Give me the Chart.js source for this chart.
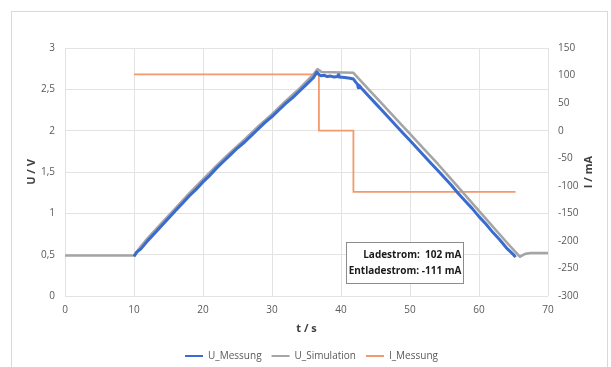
<!DOCTYPE html>
<html>
<head>
<meta charset="utf-8">
<script src="https://cdn.jsdelivr.net/npm/chart.js@4/dist/chart.umd.min.js"></script>
<style>
  html, body { margin: 0; padding: 0; background: #ffffff; }
  #wrap { width: 611px; height: 367px; }
</style>
</head>
<body>
<div id="wrap"><canvas id="c" width="611" height="367"></canvas></div>
<script>
// Measured cell voltage (charge ramp, rest, discharge ramp)
const tMessung = [10.0, 10.4, 11.0, 12.0, 13.0, 14.0, 15.0, 16.0, 17.0, 18.0, 19.0, 20.0,
  21.0, 22.0, 23.0, 24.0, 25.0, 26.0, 27.0, 28.0, 29.0, 30.0, 31.0, 32.0, 33.0, 34.0,
  35.0, 36.0, 36.5, 36.8, 37.1, 37.6, 38.0, 38.5, 39.0, 39.5, 39.6, 39.7, 40.2, 40.8,
  41.3, 41.8, 42.1, 42.4, 42.5, 42.6, 43.0, 44.0, 45.0, 46.0, 47.0, 48.0, 49.0, 50.0,
  51.0, 52.0, 53.0, 54.0, 55.0, 56.0, 57.0, 58.0, 59.0, 60.0, 61.0, 62.0, 63.0, 64.0,
  65.0, 65.3];
const uMessung = [0.48, 0.53, 0.57, 0.67, 0.76, 0.85, 0.94, 1.03, 1.12, 1.21, 1.29, 1.38,
  1.46, 1.55, 1.63, 1.71, 1.79, 1.86, 1.94, 2.02, 2.10, 2.17, 2.25, 2.33, 2.40, 2.48,
  2.56, 2.64, 2.71, 2.68, 2.665, 2.67, 2.655, 2.66, 2.65, 2.655, 2.675, 2.65, 2.645, 2.64,
  2.635, 2.625, 2.59, 2.56, 2.52, 2.55, 2.51, 2.42, 2.33, 2.24, 2.15, 2.06, 1.97, 1.88,
  1.79, 1.70, 1.61, 1.52, 1.43, 1.34, 1.24, 1.15, 1.06, 0.96, 0.87, 0.77, 0.68, 0.58,
  0.50, 0.47];

// Simulated cell voltage
const tSimulation = [0, 10, 11, 12, 14, 16, 18, 20, 22, 24, 26, 28, 30, 32, 34, 36, 36.6,
  37.2, 41.8, 44, 46, 48, 50, 52, 54, 56, 58, 60, 62, 64, 65.9, 66.7, 67.5, 70];
const uSimulation = [0.49, 0.49, 0.60, 0.70, 0.88, 1.06, 1.24, 1.41, 1.58, 1.74, 1.89, 2.05,
  2.20, 2.36, 2.51, 2.68, 2.745, 2.71, 2.70, 2.50, 2.32, 2.14, 1.96, 1.78, 1.60, 1.41,
  1.22, 1.03, 0.84, 0.65, 0.475, 0.51, 0.52, 0.52];

// Measured current in mA
const tStrom = [10, 36.8, 36.8, 41.8, 41.8, 65.3];
const iMessung = [102, 102, 0, 0, -111, -111];

// Axis ticks
const tTicks = [0, 10, 20, 30, 40, 50, 60, 70];
const uTicks = [0, 0.5, 1, 1.5, 2, 2.5, 3];
const iTicks = [-300, -250, -200, -150, -100, -50, 0, 50, 100, 150];

const ladestrom = iMessung[0];
const entladestrom = iMessung[4];

const FONT = "'Open Sans', 'Liberation Sans', sans-serif";
const GRID = '#e3e3e3';
const TICK = '#595959';
const TITLE = '#404040';

const pts = (xs, ys) => xs.map((x, i) => ({ x: x, y: ys[i] }));
const fmt = v => String(v).replace('.', ',');

// Light frame around the whole chart
const framePlugin = {
  id: 'frame',
  beforeDraw(chart) {
    const ctx = chart.ctx;
    ctx.save();
    ctx.fillStyle = '#ffffff';
    ctx.fillRect(0, 0, chart.width, chart.height);
    ctx.strokeStyle = '#d9d9d9';
    ctx.lineWidth = 1;
    ctx.strokeRect(11.5, 11.5, 596, 420);
    ctx.restore();
  }
};

// Right axis title (bottom-to-top) and the current info box
const extrasPlugin = {
  id: 'extras',
  afterDraw(chart) {
    const ctx = chart.ctx;
    const area = chart.chartArea;
    const sx = chart.scales.x, sy = chart.scales.y;
    ctx.save();
    ctx.translate(589, (area.top + area.bottom) / 2);
    ctx.rotate(-Math.PI / 2);
    ctx.font = 'bold 11px ' + FONT;
    ctx.fillStyle = TITLE;
    ctx.textAlign = 'center';
    ctx.textBaseline = 'middle';
    ctx.fillText('I / mA', 0, 0);
    ctx.restore();

    const lines = ['Ladestrom:  ' + ladestrom + ' mA', 'Entladestrom: ' + entladestrom + ' mA'];
    ctx.save();
    ctx.font = 'bold 10px ' + FONT;
    const w = Math.max(...lines.map(l => ctx.measureText(l).width));
    const left = Math.round(sx.getPixelForValue(40.72)) + 0.5;
    const top = Math.round(sy.getPixelForValue(0.655)) + 0.5;
    const bw = Math.round(w + 4);
    const bh = 41;
    ctx.fillStyle = '#ffffff';
    ctx.fillRect(left, top, bw, bh);
    ctx.strokeStyle = '#8c8c8c';
    ctx.lineWidth = 1;
    ctx.strokeRect(left, top, bw, bh);
    ctx.fillStyle = '#1a1a1a';
    ctx.textAlign = 'right';
    ctx.textBaseline = 'middle';
    ctx.fillText(lines[0], left + bw - 2, top + 12.5);
    ctx.fillText(lines[1], left + bw - 2, top + 29);
    ctx.restore();
  }
};

new Chart(document.getElementById('c'), {
  type: 'line',
  data: {
    datasets: [
      {
        label: 'U_Messung',
        data: pts(tMessung, uMessung),
        borderColor: '#3a6bd1',
        backgroundColor: '#3a6bd1',
        borderWidth: 3,
        borderJoinStyle: 'round',
        pointRadius: 0,
        tension: 0,
        yAxisID: 'y'
      },
      {
        label: 'U_Simulation',
        data: pts(tSimulation, uSimulation),
        borderColor: '#a5a5a5',
        backgroundColor: '#a5a5a5',
        borderWidth: 2.6,
        borderJoinStyle: 'round',
        pointRadius: 0,
        tension: 0,
        yAxisID: 'y'
      },
      {
        label: 'I_Messung',
        data: pts(tStrom, iMessung),
        borderColor: '#f29a6e',
        backgroundColor: '#f29a6e',
        borderWidth: 1.8,
        pointRadius: 0,
        tension: 0,
        yAxisID: 'y1'
      }
    ]
  },
  options: {
    responsive: false,
    devicePixelRatio: 1,
    animation: false,
    layout: { padding: { left: 12, right: 0, top: 48, bottom: -4 } },
    plugins: {
      title: { display: false },
      tooltip: { enabled: false },
      legend: {
        position: 'bottom',
        labels: {
          usePointStyle: true,
          pointStyle: 'line',
          pointStyleWidth: 18,
          padding: 10,
          color: TICK,
          font: { family: FONT, size: 10 },
          generateLabels(chart) {
            const items = Chart.defaults.plugins.legend.labels.generateLabels(chart);
            items.forEach(it => { it.lineWidth = 2; });
            return items;
          }
        }
      }
    },
    scales: {
      x: {
        type: 'linear',
        position: 'bottom',
        min: 0,
        max: 70,
        afterBuildTicks: s => { s.ticks = tTicks.map(v => ({ value: v })); },
        afterFit: s => { s.height = 45; },
        grid: { color: GRID, drawTicks: false },
        border: { display: false },
        ticks: { padding: 8, color: TICK, font: { family: FONT, size: 10 }, callback: fmt },
        title: {
          display: true, text: 't / s', color: TITLE,
          font: { family: FONT, size: 11, weight: 'bold' },
          padding: { top: 0, bottom: 6 }
        }
      },
      y: {
        type: 'linear',
        position: 'left',
        min: 0,
        max: 3,
        afterBuildTicks: s => { s.ticks = uTicks.map(v => ({ value: v })); },
        afterFit: s => { s.width = 53; },
        grid: { color: GRID, drawTicks: false },
        border: { display: false },
        ticks: { padding: 10, color: TICK, font: { family: FONT, size: 10 }, callback: fmt },
        title: {
          display: true, text: 'U / V', color: TITLE,
          font: { family: FONT, size: 11, weight: 'bold' },
          padding: { top: 13, bottom: 0 }
        }
      },
      y1: {
        type: 'linear',
        position: 'right',
        min: -300,
        max: 150,
        afterBuildTicks: s => { s.ticks = iTicks.map(v => ({ value: v })); },
        afterFit: s => { s.width = 63; },
        grid: { display: false, drawTicks: false },
        border: { display: false },
        ticks: { padding: 10, color: TICK, font: { family: FONT, size: 10 }, callback: fmt }
      }
    }
  },
  plugins: [framePlugin, extrasPlugin]
});
</script>
</body>
</html>
